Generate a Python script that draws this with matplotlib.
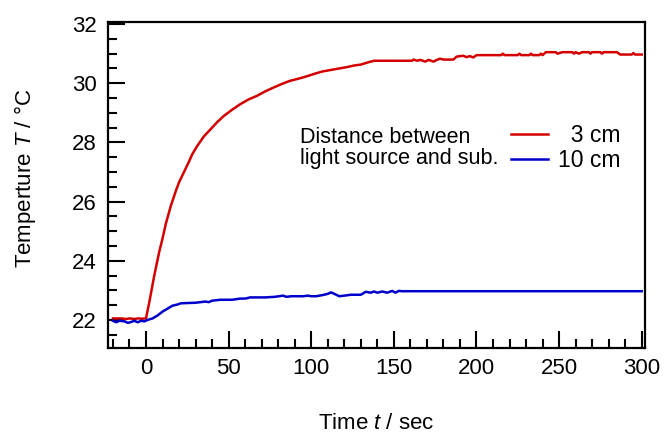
import matplotlib
matplotlib.use("Agg")
import matplotlib.pyplot as plt
from matplotlib.ticker import MultipleLocator

plt.rcParams['font.family'] = ['Liberation Sans', 'DejaVu Sans']
plt.rcParams['mathtext.fontset'] = 'custom'
plt.rcParams['mathtext.it'] = 'Liberation Sans:italic'
plt.rcParams['mathtext.rm'] = 'Liberation Sans'

# 3 cm series
t_red = [-20, -15, -12, -10, -7, -5, -2, 0,
         2, 5, 8, 10, 12, 15, 18, 20, 23, 26, 28, 31, 35, 39, 43, 47, 52, 57,
         62, 67, 72, 77, 82, 87, 92, 97, 102, 107, 112, 117, 122, 126, 130, 134,
         138, 145, 155, 161, 162, 164, 166, 169, 171, 174, 176, 178, 180, 186,
         188, 192, 194, 196, 198, 200, 215, 216, 217, 225, 226, 227, 232, 233,
         234, 238, 239, 240, 242, 248, 249, 252, 258, 259, 260, 262, 264, 268,
         269, 270, 275, 276, 277, 285, 287, 294, 295, 296, 300]
T_red = [22.05, 22.05, 22.03, 22.05, 22.03, 22.05, 22.04, 22.05,
         22.6, 23.5, 24.3, 24.75, 25.25, 25.85, 26.35, 26.65, 27.0, 27.35, 27.6,
         27.88, 28.2, 28.44, 28.68, 28.89, 29.1, 29.29, 29.45, 29.57, 29.72,
         29.85, 29.97, 30.08, 30.15, 30.23, 30.32, 30.4, 30.45, 30.5, 30.55,
         30.6, 30.63, 30.7, 30.76, 30.76, 30.76, 30.76, 30.8, 30.76, 30.79,
         30.73, 30.79, 30.73, 30.79, 30.83, 30.8, 30.8, 30.9, 30.93, 30.88,
         30.92, 30.87, 30.95, 30.95, 31.0, 30.95, 30.95, 31.0, 30.95, 30.95,
         31.0, 30.95, 30.95, 31.0, 30.95, 31.05, 31.05, 31.0, 31.05, 31.05,
         31.0, 31.05, 31.0, 31.05, 31.05, 31.0, 31.05, 31.05, 31.0, 31.05,
         31.05, 30.97, 30.97, 31.02, 30.97, 30.97]

# 10 cm series
t_blue = [-20, -18, -16, -13, -11, -9, -7, -5, -3, -1, 1, 4, 7, 10, 13, 16, 19,
          21, 25, 30, 33, 36, 38, 40, 45, 52, 57, 60, 63, 68, 72, 78, 83, 85,
          88, 95, 98, 100, 103, 107, 110, 112, 114, 117, 120, 124, 130, 133,
          136, 138, 140, 143, 146, 149, 151, 153, 155, 300]
T_blue = [21.97, 21.92, 21.97, 21.95, 21.9, 21.93, 21.97, 21.92, 21.97, 21.95,
          22.0, 22.05, 22.15, 22.28, 22.38, 22.48, 22.52, 22.56, 22.57, 22.58,
          22.6, 22.62, 22.6, 22.65, 22.68, 22.68, 22.72, 22.72, 22.76, 22.76,
          22.76, 22.78, 22.82, 22.78, 22.8, 22.8, 22.82, 22.8, 22.8, 22.84,
          22.88, 22.93, 22.88, 22.8, 22.82, 22.85, 22.85, 22.95, 22.92, 22.96,
          22.92, 22.96, 22.92, 22.98, 22.92, 22.98, 22.97, 22.97]

series_labels = ["  3 cm", "10 cm"]
legend_title = "Distance between\nlight source and sub."
x_ticks = [0, 50, 100, 150, 200, 250, 300]
y_ticks = [22, 24, 26, 28, 30, 32]

fig = plt.figure(figsize=(6.65, 4.34), dpi=100)
ax = fig.add_axes([108/665, 86/434, (645-108)/665, (348-22)/434])

ax.plot(t_red, T_red, color='#d40000', lw=1.8, label=series_labels[0])
ax.plot(t_blue, T_blue, color='#0000cc', lw=1.8, label=series_labels[1])

ax.set_xlim(-23, 302)
ax.set_ylim(21.05, 32.07)
ax.set_xticks(x_ticks)
ax.set_yticks(y_ticks)
ax.xaxis.set_minor_locator(MultipleLocator(10))
ax.yaxis.set_minor_locator(MultipleLocator(0.5))
ax.tick_params(which='major', direction='in', length=12, width=1.5,
               labelsize=16, pad=7)
ax.tick_params(which='minor', direction='in', length=6.5, width=1.5)
ax.tick_params(axis='y', which='major', pad=8)
for s in ax.spines.values():
    s.set_linewidth(1.6)

ax.set_xlabel("Time $t$ / sec", fontsize=16)
ax.set_ylabel("Temperture $T$ / °C", fontsize=16)
ax.xaxis.set_label_coords(0.5, -0.2)
ax.yaxis.set_label_coords(-0.13, 0.52)

ax.text((300-108)/537, (348-148)/326, legend_title, transform=ax.transAxes,
        fontsize=15.5, ha='left', va='center', linespacing=1.0)

leg = ax.legend(loc='center left', bbox_to_anchor=((511-108)/537, (348-148)/326),
                frameon=False, fontsize=16.5, handlelength=1.6,
                handletextpad=0.45, labelspacing=0.05, borderaxespad=0,
                borderpad=0)

fig.savefig("out.png", dpi=100)
